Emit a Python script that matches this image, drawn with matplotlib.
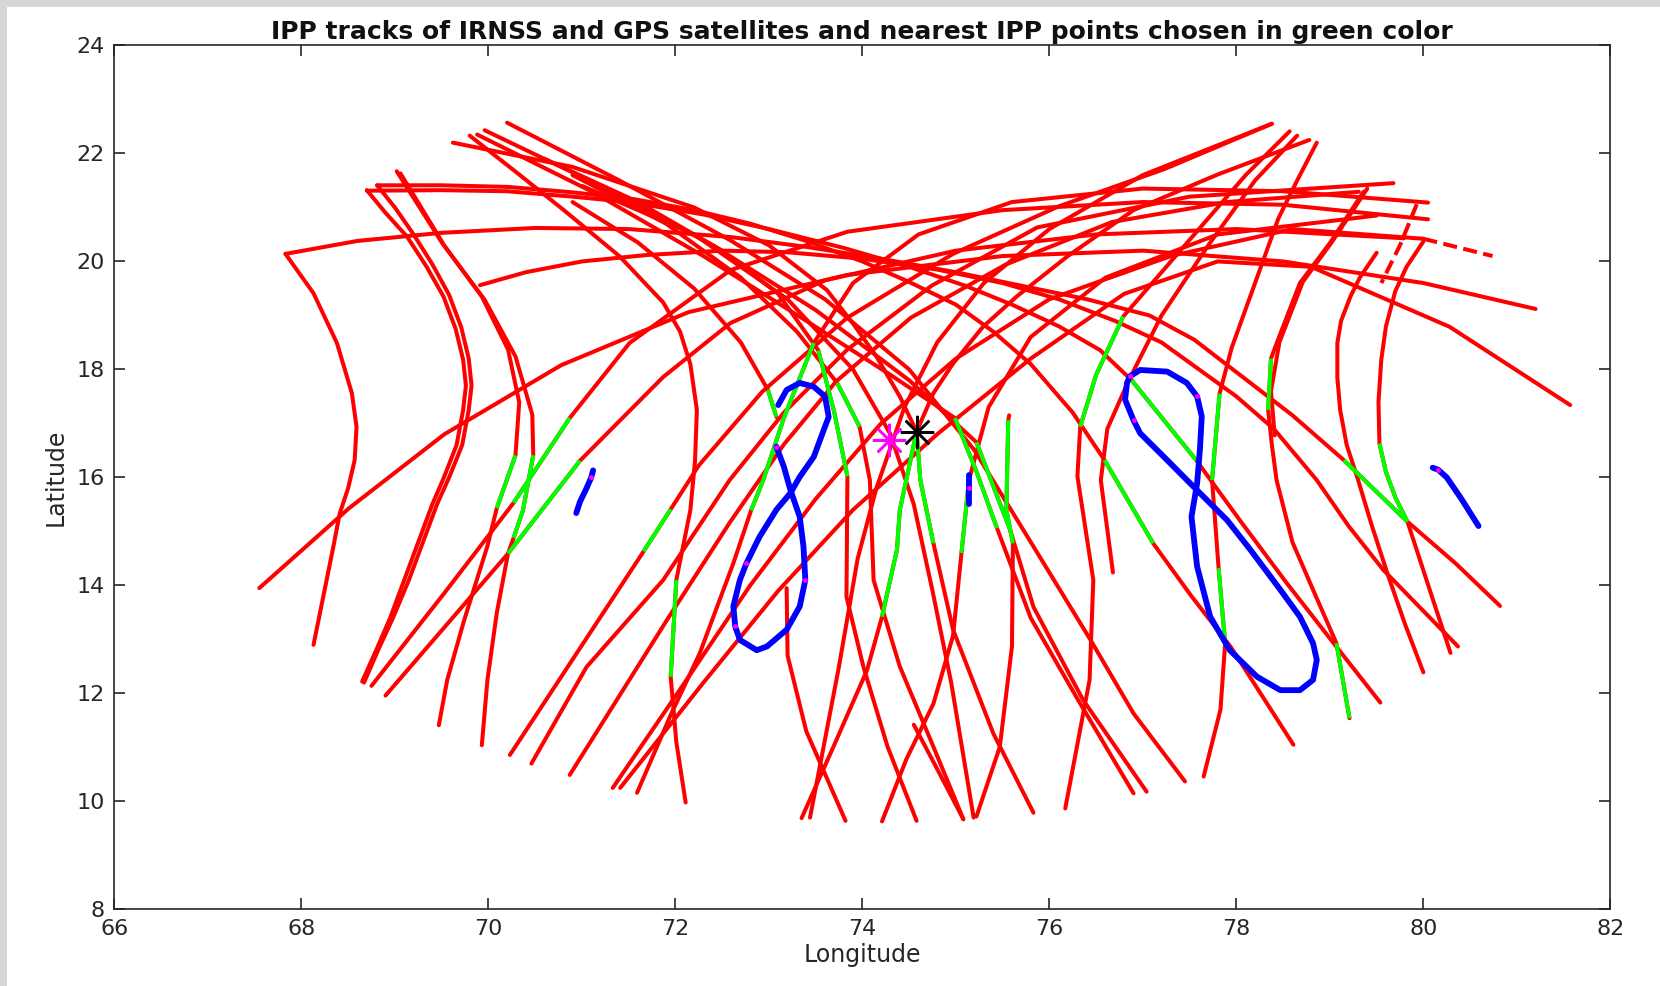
import matplotlib
matplotlib.use("Agg")
import matplotlib.pyplot as plt
from matplotlib.patches import Rectangle

plt.rcParams['font.family'] = ['DejaVu Sans']

title_text = "IPP tracks of IRNSS and GPS satellites and nearest IPP points chosen in green color"
x_label = "Longitude"
y_label = "Latitude"
x_ticks = [66, 68, 70, 72, 74, 76, 78, 80, 82]
y_ticks = [8, 10, 12, 14, 16, 18, 20, 22, 24]

# ---- red IPP tracks (lon, lat) ----
A1 = [(67.83,20.14),(68.13,19.41),(68.38,18.49),(68.54,17.56),(68.59,16.94),(68.57,16.32),(68.50,15.80),(68.41,15.33),(68.34,14.70),(68.27,14.10),(68.20,13.50),(68.13,12.90)]
A2 = [(68.70,21.32),(68.90,20.90),(69.13,20.46),(69.34,19.90),(69.52,19.35),(69.65,18.75),(69.73,18.18),(69.76,17.70),(69.73,17.25),(69.66,16.60),(69.52,15.98),(69.40,15.50),(69.25,14.80),(69.10,14.10),(68.95,13.40),(68.80,12.80),(68.65,12.22)]
A3 = [(68.81,21.41),(69.00,21.00),(69.20,20.50),(69.40,19.95),(69.58,19.38),(69.71,18.78),(69.79,18.20),(69.82,17.70),(69.79,17.25),(69.72,16.60),(69.58,16.00),(69.45,15.50),(69.30,14.80),(69.15,14.10),(68.98,13.40),(68.82,12.80),(68.67,12.20)]
B1 = [(69.02,21.67),(69.51,20.33),(69.96,19.29),(70.29,18.24),(70.47,17.16),(70.48,16.41),(70.37,15.39),(70.27,14.88),(70.21,14.59),(70.09,13.49),(69.99,12.25),(69.93,11.04)]
B2 = [(69.06,21.63),(69.53,20.29),(69.93,19.35),(70.21,18.37),(70.33,17.39),(70.29,16.41),(70.09,15.43),(69.99,14.73),(69.74,13.35),(69.56,12.25),(69.47,11.41)]
HA = [(67.83,20.14),(68.6,20.38),(69.5,20.53),(70.5,20.62),(71.5,20.6),(72.6,20.45),(73.4,20.27),(74.2,20.05),(75.0,19.8),(75.7,19.55),(76.4,19.3),(77.07,19.0),(77.55,18.55),(77.97,17.99),(78.6,17.15),(79.15,16.32),(79.83,15.18),(80.35,14.4),(80.82,13.62)]
HB = [(68.70,21.31),(69.5,21.32),(70.2,21.3),(70.9,21.2),(71.5,21.1),(72.3,20.87),(73.0,20.6),(73.8,20.25),(74.5,19.9),(75.1,19.55),(75.6,19.2),(76.1,18.8),(76.54,18.36),(76.88,17.80),(77.57,16.32),(78.04,15.2),(78.54,14.04),(79.04,12.93),(79.54,11.83)]
HC = [(68.81,21.41),(69.5,21.41),(70.21,21.38),(70.9,21.28),(71.57,21.15),(72.2,20.95),(72.8,20.7),(73.4,20.38),(74.0,20.0),(74.5,19.62),(75.0,19.2),(75.4,18.7),(75.8,18.1),(76.25,17.2),(76.59,16.32),(77.11,14.78),(77.52,13.8),(77.94,12.86),(78.61,11.05)]
HD = [(69.91,19.56),(70.4,19.8),(71.0,20.0),(71.7,20.12),(72.5,20.2),(73.2,20.17),(74.0,20.05),(74.8,19.85),(75.5,19.6),(76.1,19.3),(76.7,18.9),(77.2,18.5),(77.6,18.0),(78.0,17.5),(78.4,16.9),(78.86,15.95),(79.2,15.1),(79.57,14.29),(80.37,12.87)]
S1 = [(69.62,22.20),(70.9,21.75),(72.2,21.0),(73.0,20.3),(73.62,19.47),(73.90,18.85),(74.15,18.24),(74.40,17.50),(74.58,16.85),(74.62,15.95),(74.76,14.78),(74.97,13.18),(75.40,11.26),(75.83,9.79)]
TL1 = [(70.20,22.57),(71.4,21.5),(72.58,20.40),(73.6,19.3),(74.5,18.0),(75.2,16.5),(75.83,14.72),(76.44,12.99),(76.90,11.63),(77.45,10.37)]
TL2 = [(69.96,22.43),(71.2,21.4),(72.4,20.3),(73.5,19.1),(74.5,17.8),(75.22,16.65),(75.58,15.03),(75.83,13.6),(76.36,11.88),(77.04,10.18)]
TL3 = [(69.88,22.35),(71.1,21.3),(72.3,20.1),(73.4,18.9),(74.3,17.9),(74.99,17.10),(75.22,16.11),(75.44,15.06),(75.8,13.4),(76.3,11.9),(76.90,10.15)]
CM = [(69.80,22.33),(70.30,21.65),(70.80,20.96),(71.40,20.10),(71.87,19.24),(72.05,18.70),(72.16,18.10),(72.23,17.25),(72.21,16.30),(72.16,15.39),(72.01,14.10),(71.95,12.31),(72.01,11.10),(72.11,9.98)]
L1 = [(70.6,21.9),(71.6,21.1),(72.5,20.2),(73.1,19.4),(73.53,18.35),(73.70,17.2),(73.84,16.02),(73.83,13.79),(74.01,12.50),(74.27,11.01),(74.58,9.64)]
L2 = [(70.9,21.6),(71.9,20.7),(72.7,19.7),(73.3,18.7),(73.73,17.75),(73.97,16.94),(74.08,15.95),(74.12,14.10),(74.40,12.50),(74.76,11.01),(75.08,9.67)]
LE = [(70.9,21.1),(71.6,20.35),(72.2,19.5),(72.7,18.5),(72.99,17.62),(73.08,17.12)]
V2 = [(71.0,21.4),(72.2,20.5),(73.2,19.3),(73.9,18.0),(74.3,16.8),(74.55,15.5),(74.75,13.9),(74.95,12.2),(75.19,9.70)]
L0 = [(67.55,13.95),(68.51,15.43),(69.53,16.80),(70.78,18.08),(72.14,19.06),(73.84,19.75),(75.5,20.1),(77.0,20.2),(78.5,20.0),(80.0,19.6),(81.2,19.12)]
D1 = [(68.75,12.14),(69.53,13.86),(70.27,15.53),(70.87,17.10),(71.51,18.49),(72.59,19.84),(73.84,20.55),(75.5,20.95),(77.0,21.1),(78.5,21.05),(80.05,20.78)]
D2 = [(68.90,11.96),(70.21,14.59),(70.98,16.31),(71.87,17.86),(72.59,18.86),(73.6,19.65),(75.0,20.2),(76.5,20.5),(78.0,20.6),(79.79,20.43)]
R1 = [(70.23,10.86),(71.66,14.63),(71.95,15.41),(72.25,16.22),(72.93,17.59),(73.84,18.96),(74.97,20.14),(76.10,21.02),(77.23,21.71),(78.38,22.55)]
R2 = [(70.46,10.70),(71.05,12.49),(71.87,14.10),(72.58,15.95),(73.16,17.2),(73.84,18.37),(74.74,19.55),(75.87,20.63),(77.5,21.2),(79.68,21.45)]
R3 = [(70.87,10.49),(71.91,13.36),(72.58,15.16),(73.16,16.61),(73.72,17.78),(74.52,18.96),(75.53,19.94),(76.67,20.73),(77.9,21.1),(79.31,21.29)]
R4 = [(71.33,10.25),(72.1,12.2),(72.8,14.0),(73.5,15.6),(74.2,17.0),(75.0,18.2),(76.0,19.3),(77.3,20.1),(78.6,20.6),(80.0,20.42)]
R4_dash = [(80.0,20.42),(80.74,20.1)]
R5 = [(71.41,10.25),(72.3,12.2),(73.1,13.9),(73.9,15.4),(74.8,16.8),(75.8,18.2),(76.8,19.4),(77.8,20.0),(78.8,19.9),(80.28,18.79),(81.57,17.34)]
R6 = [(71.59,10.16),(71.95,11.6),(72.26,12.74),(72.62,14.41),(72.81,15.39),(72.94,15.95),(73.16,17.1),(73.48,18.49),(73.9,19.6),(74.6,20.5),(75.6,21.1),(77.0,21.35),(78.5,21.3),(80.05,21.09)]
S2 = [(78.78,22.25),(77.80,21.61),(76.90,20.95),(76.19,20.09),(75.65,19.35),(75.29,18.79),(74.97,18.11),(74.76,17.56),(74.58,16.85),(74.40,15.39),(74.37,14.66),(74.21,13.42),(74.05,12.43),(73.69,11.01),(73.35,9.69)]
R8 = [(78.38,22.55),(77.0,21.6),(76.0,20.6),(75.3,19.6),(74.8,18.5),(74.45,17.3),(74.15,15.8),(73.95,14.5),(73.75,12.5),(73.44,9.70)]
R9 = [(74.21,9.63),(74.47,10.78),(74.76,11.81),(74.97,13.07),(75.06,14.60),(75.14,15.95),(75.35,17.3),(75.8,18.6),(76.6,19.7),(77.8,20.5),(79.5,20.85)]
SH = [(73.19,13.95),(73.2,12.7),(73.4,11.3),(73.82,9.64)]
KN = [(74.55,11.42),(74.8,10.6),(75.08,9.67)]
V1 = [(75.57,17.15),(75.56,17.06),(75.54,15.40),(75.61,14.78),(75.60,12.87),(75.47,11.01),(75.22,9.72)]
RCY = [(78.57,22.41),(78.1,21.6),(77.6,20.6),(77.1,19.6),(76.79,18.98),(76.5,17.9),(76.33,16.94),(76.30,16.02),(76.47,14.10),(76.43,12.25),(76.17,9.87)]
RCZ = [(78.65,22.33),(78.2,21.5),(77.7,20.3),(77.2,19.0),(76.85,17.8),(76.62,16.9),(76.55,15.95),(76.68,14.24)]
RCX = [(78.86,22.20),(78.65,21.5),(78.45,20.8),(78.2,19.6),(77.95,18.4),(77.82,17.55),(77.74,15.95),(77.81,14.32),(77.88,12.93),(77.83,11.7),(77.65,10.46)]
RCD = [(79.36,21.29),(79.0,20.34),(78.68,19.60),(78.43,18.48),(78.37,18.20),(78.34,17.25),(78.38,16.6),(78.43,15.95),(78.60,14.8),(78.85,13.8),(79.07,12.93),(79.21,11.54)]
RCD2 = [(79.40,21.35),(79.03,20.38),(78.71,19.62),(78.46,18.50),(78.37,17.6),(78.41,16.78)]
RC2 = [(79.50,20.16),(79.32,19.7),(79.22,19.35),(79.12,18.9),(79.08,18.49),(79.08,17.85),(79.11,17.25),(79.18,16.6),(79.29,16.02),(79.45,15.1),(79.61,14.25),(79.80,13.3),(80.0,12.39)]
RC3 = [(80.0,20.37),(79.82,19.9),(79.70,19.45),(79.60,18.8),(79.55,18.18),(79.52,17.4),(79.53,16.63),(79.60,16.1),(79.70,15.63),(79.83,15.18),(80.06,13.96),(80.29,12.75)]
RC_dash = [(79.93,21.06),(79.75,20.3),(79.55,19.6)]

red_tracks = {"A1": A1, "A2": A2, "A3": A3, "B1": B1, "B2": B2, "HA": HA, "HB": HB, "HC": HC,
              "HD": HD, "S1": S1, "TL1": TL1, "TL2": TL2, "TL3": TL3, "CM": CM, "L1": L1, "L2": L2,
              "LE": LE, "V2": V2, "L0": L0, "D1": D1, "D2": D2, "R1": R1, "R2": R2, "R3": R3, "R4": R4,
              "R5": R5, "R6": R6, "S2": S2, "R8": R8, "R9": R9, "SH": SH, "KN": KN, "V1": V1,
              "RCY": RCY, "RCZ": RCZ, "RCX": RCX, "RCD": RCD, "RCD2": RCD2, "RC2": RC2, "RC3": RC3}
dashed_tracks = [R4_dash, RC_dash]

# green (nearest IPP) parts: track, first point, last point
green_parts = [("B1", 5, 7), ("B2", 5, 6), ("HA", 15, 16), ("HB", 13, 14), ("HC", 14, 15),
               ("S1", 8, 10), ("TL2", 5, 6), ("TL3", 5, 7), ("CM", 10, 11), ("L1", 4, 6),
               ("L2", 4, 5), ("LE", 4, 5), ("D1", 2, 3), ("D2", 1, 2), ("R1", 1, 2),
               ("R6", 4, 7), ("S2", 8, 11), ("R9", 4, 5), ("V1", 1, 3), ("RCY", 4, 6),
               ("RCX", 5, 6), ("RCX", 7, 8), ("RCD", 4, 5), ("RCD", 10, 11), ("RC3", 6, 9)]

# ---- blue IRNSS IPP tracks ----
irnss_left8 = [(73.10,17.34),(73.19,17.62),(73.33,17.75),(73.48,17.68),(73.60,17.50),(73.64,17.12),
               (73.60,16.94),(73.48,16.38),(73.33,16.01),(73.23,15.71),(73.08,15.40),(72.90,14.90),
               (72.76,14.41),(72.69,14.10),(72.62,13.61),(72.64,13.24),(72.69,12.99),(72.87,12.80),
               (72.98,12.87),(73.19,13.18),(73.33,13.61),(73.39,14.10),(73.37,14.72),(73.33,15.27),
               (73.23,15.77),(73.16,16.20),(73.08,16.57)]
irnss_right8 = [(76.86,17.87),(76.97,17.99),(77.26,17.96),(77.47,17.75),(77.58,17.50),(77.63,17.13),
                (77.61,16.51),(77.58,15.89),(77.52,15.27),(77.58,14.35),(77.72,13.42),(77.93,12.80),
                (78.22,12.31),(78.47,12.06),(78.68,12.06),(78.82,12.25),(78.86,12.62),(78.82,12.93),
                (78.68,13.42),(78.47,13.92),(78.15,14.66),(77.90,15.21),(77.61,15.71),(77.26,16.32),
                (76.97,16.82),(76.90,17.06),(76.81,17.44),(76.83,17.75),(76.86,17.87)]
irnss_short1 = [(71.12,16.13),(71.10,16.0),(71.05,15.8),(70.98,15.55),(70.94,15.34)]
irnss_short2 = [(75.14,16.05),(75.14,15.80),(75.14,15.50)]
irnss_short3 = [(80.10,16.18),(80.16,16.14),(80.25,16.0),(80.40,15.62),(80.59,15.10)]
irnss_tracks = [irnss_left8, irnss_right8, irnss_short1, irnss_short2, irnss_short3]
magenta_pts = [(73.08,16.57),(72.64,13.24),(72.76,14.41),(73.39,14.10),(76.86,17.87),(77.58,17.50),
               (76.90,17.06),(80.16,16.14),(71.10,16.0),(75.14,15.8)]

receiver = (74.58, 16.85)     # black asterisk
pierce_mean = (74.28, 16.69)  # magenta asterisk

# ---------------- drawing ----------------
W, H = 1660, 986
fig = plt.figure(figsize=(W/100, H/100), dpi=100)
fig.patch.set_facecolor('#d6d6d6')
fig.patches.append(Rectangle((7/W, 0), 1, 1 - 7/H, transform=fig.transFigure,
                             facecolor='white', edgecolor='none', zorder=-10))
ax = fig.add_axes([0.0689, 0.0777, 0.9012, 0.8762])
ax.set_zorder(5)
ax.set_facecolor('white')

RED, GREEN, BLUE, MAG = '#ff0000', '#00ff00', '#0000ff', '#ff00ff'
lw = 2.9
for name, pts in red_tracks.items():
    ax.plot([p[0] for p in pts], [p[1] for p in pts], color=RED, lw=lw,
            solid_capstyle='round', solid_joinstyle='round', zorder=2)
for pts in dashed_tracks:
    ax.plot([p[0] for p in pts], [p[1] for p in pts], color=RED, lw=lw,
            ls=(0, (3.5, 1.6)), zorder=2)
for name, i0, i1 in green_parts:
    seg = red_tracks[name][i0:i1 + 1]
    ax.plot([p[0] for p in seg], [p[1] for p in seg], color=GREEN, lw=lw,
            solid_capstyle='butt', solid_joinstyle='round', zorder=3)
for pts in irnss_tracks:
    ax.plot([p[0] for p in pts], [p[1] for p in pts], color=BLUE, lw=4.2,
            solid_capstyle='round', solid_joinstyle='round', zorder=4)
ax.plot([p[0] for p in magenta_pts], [p[1] for p in magenta_pts], ls='none',
        marker='o', ms=3.5, color=MAG, mec='none', zorder=5)
ax.plot(*pierce_mean, ls='none', marker=(8, 2, 0), ms=24, mew=1.8, color=MAG, zorder=6)
ax.plot(*receiver, ls='none', marker=(8, 2, 0), ms=24, mew=1.8, color='black', zorder=6)

ax.set_xlim(66, 82)
ax.set_ylim(8, 24)
ax.set_xticks(x_ticks)
ax.set_yticks(y_ticks)
ax.tick_params(direction='in', length=8, width=1.2, top=True, right=True,
               labelsize=16, colors='#262626', pad=7)
for sp in ax.spines.values():
    sp.set_color('#262626')
    sp.set_linewidth(1.2)
ax.set_xlabel(x_label, fontsize=17, color='#262626', labelpad=3)
ax.set_ylabel(y_label, fontsize=17, color='#262626', labelpad=6)
ax.set_title(title_text, fontsize=18, fontweight='bold', color='#111111', pad=5)

fig.savefig("out.png", dpi=100, facecolor=fig.get_facecolor())
